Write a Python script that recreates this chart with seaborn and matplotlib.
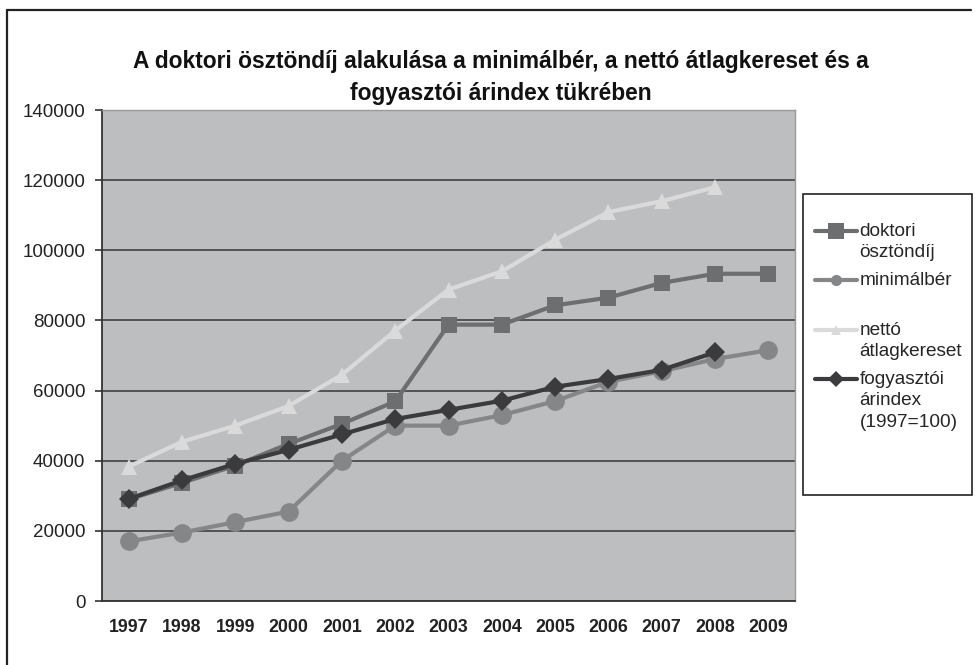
"""
Doktori ösztöndíj vs. minimálbér, nettó átlagkereset és fogyasztói árindex.
"""

import numpy as np
import matplotlib.pyplot as plt
from matplotlib.lines import Line2D
from matplotlib.patches import Rectangle

import seaborn as sns

# data
years = list(range(1997, 2010))
doktori = [29000, 33700, 38600, 44800, 50500, 56900, 78800, 78800, 84300, 86500, 90700, 93300, 93300]
minimalber = [17000, 19500, 22500, 25500, 40000, 50000, 50000, 53000, 57000, 62500, 65500, 69000, 71500]
netto_years = years[:12]
netto = [38300, 45400, 50000, 55600, 64500, 77100, 88800, 94000, 103000, 110900, 114000, 118000]
arindex_years = years[:12]
arindex = [29100, 34400, 39100, 43100, 47500, 51900, 54500, 57100, 61100, 63300, 65900, 70900]

y_ticks = [0, 20000, 40000, 60000, 80000, 100000, 120000, 140000]
# every label takes two lines so the legend rows come out evenly spaced
legend_labels = ["doktori\nösztöndíj", "minimálbér\n ", "nettó\nátlagkereset",
                 "fogyasztói\nárindex\n(1997=100)"]
title = ("A doktori ösztöndíj alakulása a minimálbér, a nettó átlagkereset és a\n"
         "fogyasztói árindex tükrében")

sns.set_style("white")
plt.rcParams["font.family"] = ["Liberation Sans", "DejaVu Sans"]

fig = plt.figure(figsize=(9.75, 6.65), dpi=100)
ax = fig.add_axes([102 / 975, 1 - 601 / 665, 693 / 975, 491 / 665])
ax.set_facecolor("#bdbec0")

# label, x, y, colour, marker, marker size
series = [
    ("doktori ösztöndíj", years, doktori, "#6d6e70", "s", 11.5),
    ("minimálbér", years, minimalber, "#858688", "o", 13.5),
    ("nettó átlagkereset", netto_years, netto, "#dadadb", "^", 12),
    ("fogyasztói árindex", arindex_years, arindex, "#3b3b3d", "D", 10),
]
for label, xs, ys, color, marker, ms in series:
    sns.lineplot(x=xs, y=ys, ax=ax, color=color, marker=marker, markersize=ms,
                 markeredgewidth=0, linewidth=3, label=label)

# grid and axes
ax.set_axisbelow(True)
ax.yaxis.grid(True, color="#4a4a4a", linewidth=1.3)
ax.xaxis.grid(False)

ax.set_xlim(1996.5, 2009.5)
ax.set_xticks(years)
ax.set_xticklabels([str(y) for y in years], fontsize=12.8, fontweight="bold", color="#222222")
ax.set_xticks(np.arange(1996.5, 2010, 1), minor=True)
ax.tick_params(axis="x", which="major", length=0, pad=13)
ax.tick_params(axis="x", which="minor", length=5, width=1.2, color="#333333", direction="out")

ax.set_ylim(0, 140000)
ax.set_yticks(y_ticks)
ax.set_yticklabels([str(v) for v in y_ticks], fontsize=13.5, color="#222222")
ax.tick_params(axis="y", length=5, width=1.2, color="#333333", direction="out", pad=7, left=True)
ax.set_xlabel("")
ax.set_ylabel("")

for side in ["left", "bottom"]:
    ax.spines[side].set_color("#333333")
    ax.spines[side].set_linewidth(1.3)
for side in ["top", "right"]:
    ax.spines[side].set_color("#9a9a9a")
    ax.spines[side].set_linewidth(1.0)

# legend in a square box on the right
handles, _ = ax.get_legend_handles_labels()
leg = ax.legend(handles, legend_labels, loc="upper left",
                bbox_to_anchor=(815 / 975, 1 - 223 / 665), bbox_transform=fig.transFigure,
                frameon=False, borderpad=0, borderaxespad=0, handlelength=2.2,
                handletextpad=0.15, labelspacing=0.57, handleheight=1.2, fontsize=13.7)
for t in leg.get_texts():
    t.set_linespacing(1.34)
for h, ms in zip(leg.legend_handles, [12, 8, 7, 8]):
    h.set_markersize(ms)
for col in leg._legend_handle_box.get_children():
    for item in col.get_children():
        item.align = "top"
fig.add_artist(Rectangle((803 / 975, 1 - 495 / 665), 169 / 975, 301 / 665,
                         transform=fig.transFigure, facecolor="none",
                         edgecolor="#222222", linewidth=1.2))

fig.text(0.514, 1 - 77.5 / 665, title, ha="center", va="center", fontsize=16.4,
         fontweight="bold", linespacing=1.48, color="#111111")

# outer border (top and left only, as in the scan)
fig.add_artist(Line2D([7 / 975, 971 / 975], [1 - 10 / 665] * 2, transform=fig.transFigure,
                      color="#222222", linewidth=1.6))
fig.add_artist(Line2D([7 / 975] * 2, [1 - 10 / 665, 0], transform=fig.transFigure,
                      color="#222222", linewidth=1.6))

fig.savefig("out.png", dpi=100)
